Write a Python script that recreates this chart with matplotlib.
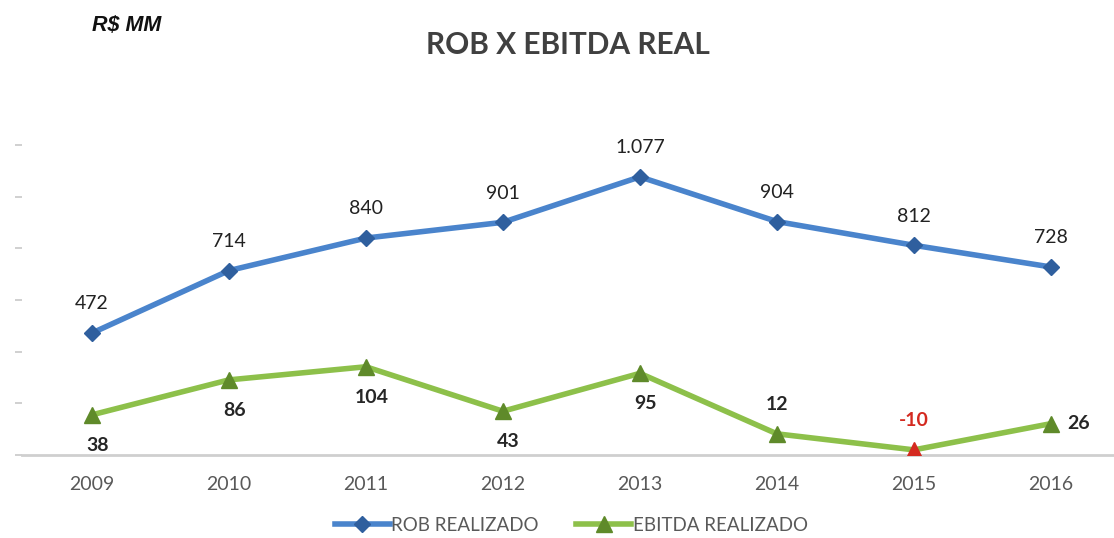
import matplotlib
matplotlib.use("Agg")
import matplotlib.pyplot as plt

# data
years = ["2009", "2010", "2011", "2012", "2013", "2014", "2015", "2016"]
rob = [472, 714, 840, 901, 1077, 904, 812, 728]
rob_labels = ["472", "714", "840", "901", "1.077", "904", "812", "728"]
ebitda = [38, 86, 104, 43, 95, 12, -10, 26]
# where the ebitda label sits: below / above / right
ebitda_pos = ["below", "below", "below", "below", "below", "above", "above", "right"]

blue = "#4a84cc"
blue_dark = "#2f5f9e"
green = "#8dc04a"
green_dark = "#5f8a2a"
red = "#d42a20"

plt.rcParams["font.family"] = ["Lato", "DejaVu Sans"]

fig = plt.figure(figsize=(11.14, 5.38), dpi=100)
ax = fig.add_axes([0.0197, 0.1543, 0.984, 0.576])
ax2 = ax.twinx()

x = list(range(len(years)))

ax.plot(x, rob, color=blue, lw=4, marker="D", ms=8,
        mfc=blue_dark, mec=blue_dark, solid_capstyle="round", zorder=3)
ax2.plot(x, ebitda, color=green, lw=4, solid_capstyle="round", zorder=3)
for xi, v in zip(x, ebitda):
    c = red if v < 0 else green_dark
    ax2.plot(xi, v, marker="^", ms=12, color=c, mec=c, zorder=4)

ax.set_xlim(-0.51, 7.49)
ax.set_ylim(0, 1197)
ax2.set_ylim(-17, 408)

for xi, v, s in zip(x, rob, rob_labels):
    ax.annotate(s, (xi, v), xytext=(0, 21), textcoords="offset points",
                ha="center", va="center", fontsize=14, color="#222222")

for xi, v, p in zip(x, ebitda, ebitda_pos):
    c = red if v < 0 else "#262626"
    if p == "below":
        off, ha = (4, -22), "center"
    elif p == "above":
        off, ha = (0, 21), "center"
    else:
        off, ha = (12, 0), "left"
    ax2.annotate(str(v), (xi, v), xytext=off, textcoords="offset points",
                 ha=ha, va="center", fontsize=14, fontweight="bold", color=c)

# axes styling
for sp in ["top", "right", "left"]:
    ax.spines[sp].set_visible(False)
    ax2.spines[sp].set_visible(False)
ax2.spines["bottom"].set_visible(False)
ax.spines["bottom"].set_color("#cfcfcf")
ax.spines["bottom"].set_linewidth(2)
ax.set_yticks(range(0, 1201, 200))
ax.tick_params(axis="y", length=5, color="#c8c8c8", width=1.2, labelleft=False, pad=8)
ax2.set_yticks([])
ax.set_xticks(x)
ax.set_xticklabels(years, fontsize=14, color="#595959")
ax.tick_params(axis="x", length=0, pad=15)

fig.text(0.510, 0.916, "ROB X EBITDA REAL", ha="center", va="center",
         fontsize=21.5, fontweight="bold", color="#404040")
fig.text(0.083, 0.952, "R$ MM", ha="left", va="center", fontsize=15.5,
         fontweight="bold", fontstyle="italic", color="#111111",
         family=["Liberation Sans", "DejaVu Sans"])

# legend
h1, = ax.plot([], [], color=blue, lw=4, marker="D", ms=8, mfc=blue_dark, mec=blue_dark)
h2, = ax.plot([], [], color=green, lw=4, marker="^", ms=11, mfc=green_dark, mec=green_dark)
fig.legend([h1, h2], ["ROB REALIZADO", "EBITDA REALIZADO"], loc="center",
           bbox_to_anchor=(0.513, 0.024), ncol=2, frameon=False, fontsize=13.5,
           labelcolor="#595959", handlelength=2.9, handletextpad=0.1,
           columnspacing=2.0)

fig.savefig("out.png", dpi=100)
